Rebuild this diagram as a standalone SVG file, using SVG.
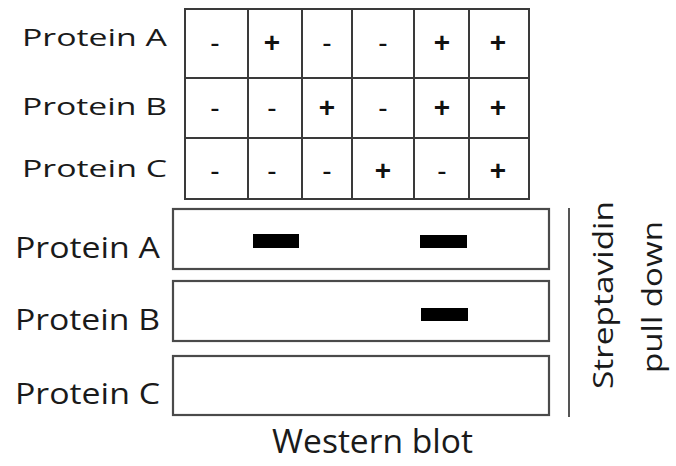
<svg xmlns="http://www.w3.org/2000/svg" width="676" height="466" viewBox="0 0 676 466">
<style>
.lbl{font-family:"Open Sans","Liberation Sans",Arial,sans-serif;fill:#1a1a1a}
.top{font-size:24px}
.bot{font-size:30px}
.sym{font-family:"Liberation Sans",Arial,sans-serif;font-size:28px;fill:#111;text-anchor:middle}
.plus{font-weight:bold}
.grid{stroke:#3a3a3a;stroke-width:2;fill:none}
.box{stroke:#4a4a4a;stroke-width:2.2;fill:#fff}
.band{fill:#000}
</style>
<rect width="676" height="466" fill="#fff"/>
<g id="row-labels">
<text class="lbl top" x="22" y="46" textLength="145" lengthAdjust="spacingAndGlyphs">Protein A</text>
<text class="lbl top" x="22" y="115" textLength="145" lengthAdjust="spacingAndGlyphs">Protein B</text>
<text class="lbl top" x="22" y="177" textLength="145" lengthAdjust="spacingAndGlyphs">Protein C</text>
</g>
<g id="grid">
<rect class="grid" x="185" y="9" width="344" height="190"/>
<line class="grid" x1="185" y1="78" x2="529" y2="78"/>
<line class="grid" x1="185" y1="138" x2="529" y2="138"/>
<line class="grid" x1="248" y1="9" x2="248" y2="199" stroke="#777" stroke-width="3"/>
<line class="grid" x1="302" y1="9" x2="302" y2="199"/>
<line class="grid" x1="352" y1="9" x2="352" y2="199"/>
<line class="grid" x1="414" y1="9" x2="414" y2="199"/>
<line class="grid" x1="469" y1="9" x2="469" y2="199"/>
</g>
<g id="symbols">
<text class="sym" x="215" y="52">-</text>
<text class="sym plus" x="272" y="52">+</text>
<text class="sym" x="327" y="52">-</text>
<text class="sym" x="383" y="52">-</text>
<text class="sym plus" x="442" y="52">+</text>
<text class="sym plus" x="498" y="52">+</text>
<text class="sym" x="215" y="117">-</text>
<text class="sym" x="272" y="117">-</text>
<text class="sym plus" x="327" y="117">+</text>
<text class="sym" x="383" y="117">-</text>
<text class="sym plus" x="442" y="117">+</text>
<text class="sym plus" x="498" y="117">+</text>
<text class="sym" x="215" y="180">-</text>
<text class="sym" x="272" y="180">-</text>
<text class="sym" x="327" y="180">-</text>
<text class="sym plus" x="383" y="180">+</text>
<text class="sym" x="442" y="180">-</text>
<text class="sym plus" x="498" y="180">+</text>
</g>
<g id="blot-A">
<text class="lbl bot" x="15" y="258" textLength="145" lengthAdjust="spacingAndGlyphs">Protein A</text>
<rect class="box" x="173" y="209" width="376" height="60"/>
<rect class="band" x="253" y="234" width="46" height="14"/>
<rect class="band" x="420" y="235" width="47" height="13"/>
</g>
<g id="blot-B">
<text class="lbl bot" x="15" y="330" textLength="145" lengthAdjust="spacingAndGlyphs">Protein B</text>
<rect class="box" x="173" y="281" width="376" height="60"/>
<rect class="band" x="421" y="308" width="47" height="13"/>
</g>
<g id="blot-C">
<text class="lbl bot" x="15" y="404" textLength="145" lengthAdjust="spacingAndGlyphs">Protein C</text>
<rect class="box" x="173" y="356" width="376" height="59"/>
</g>
<g id="pulldown">
<line x1="569" y1="208" x2="569" y2="417" stroke="#555" stroke-width="2"/>
<text class="lbl" font-size="28" transform="translate(613,389) rotate(-90)" textLength="188" lengthAdjust="spacingAndGlyphs">Streptavidin</text>
<text class="lbl" font-size="28" transform="translate(662,373) rotate(-90)" textLength="152" lengthAdjust="spacingAndGlyphs">pull down</text>
</g>
<g id="footer">
<text class="lbl" font-size="32" x="272" y="453" textLength="201" lengthAdjust="spacingAndGlyphs">Western blot</text>
</g>
</svg>
